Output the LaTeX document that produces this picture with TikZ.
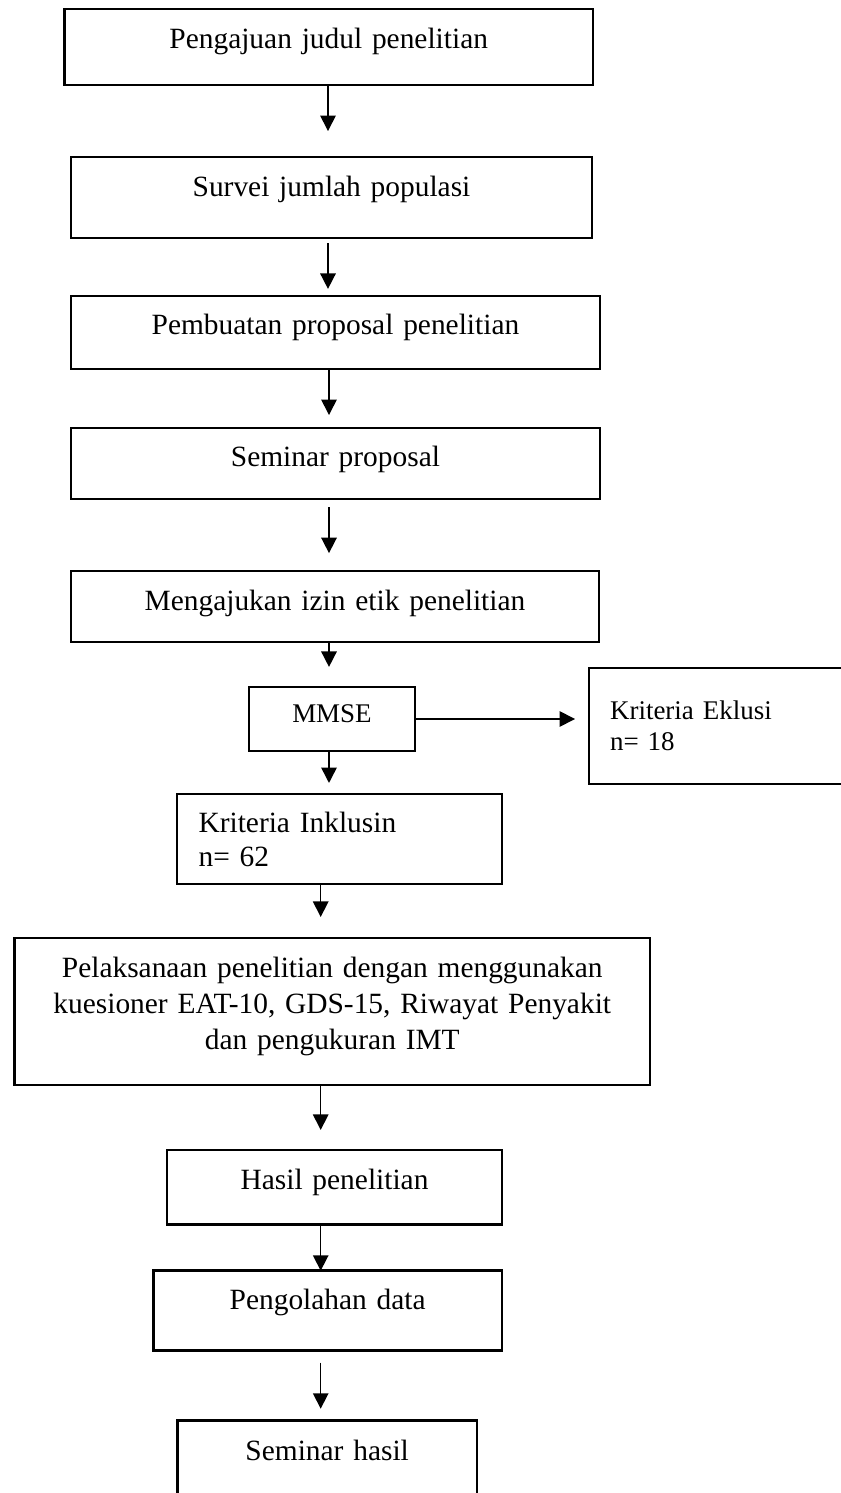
\documentclass[tikz,border=0pt]{standalone}
\usepackage{fontspec}
\setmainfont{Liberation Serif}
\usetikzlibrary{arrows.meta}

\begin{document}
\begin{tikzpicture}[x=0.408pt,y=-0.408pt,
  box/.style={draw,line width=1pt,anchor=north west,inner sep=0pt,outer sep=0pt,
    align=center,font=\fontsize{12}{14.7}\selectfont},
  arr/.style={line width=0.65pt,-{Triangle[width=6.3pt,length=6.3pt]}}]
\useasboundingbox (0,0) rectangle (841,1493);
\clip (0,0) rectangle (841,1493);
\coordinate (colA) at (328,0);
\coordinate (colB) at (329,0);
\coordinate (colC) at (320.7,0);
\path (64.5,9)    node[box,text width=215.6pt,text height=16pt,text depth=15pt]   (judul)    {Pengajuan judul penelitian};
\path (71,157)    node[box,text width=212.6pt,text height=16.2pt,text depth=16.9pt] (survei)   {Survei jumlah populasi};
\path (71,296)    node[box,text width=215.8pt,text height=15.9pt,text depth=13.9pt] (proposal) {Pembuatan proposal penelitian};
\path (71,428)    node[box,text width=215.8pt,text height=15.8pt,text depth=13.2pt] (seminar)  {Seminar proposal};
\path (71,571)    node[box,text width=215.4pt,text height=16.2pt,text depth=12.8pt] (izin)     {Mengajukan izin etik penelitian};
\path (249,687)   node[box,text width=67.7pt,text height=14.6pt,text depth=11.5pt,
                       font=\fontsize{11}{12.6}\selectfont] (mmse) {MMSE};
\path (589,668)   node[box,align=left,inner xsep=8.6pt,text width=93.4pt,text height=21.2pt,text depth=26.1pt,
                       font=\fontsize{11}{12.6}\selectfont] (eklusi) {Kriteria Eklusi\\n= 18};
\path (177,794)   node[box,align=left,inner xsep=8.8pt,text width=115.1pt,text height=15.8pt,text depth=20.9pt,
                       font=\fontsize{12}{13.9}\selectfont] (inklusi) {Kriteria Inklusin\\n= 62};
\path (14.5,938)  node[box,text width=259.3pt,text height=16pt,text depth=43.9pt] (pelaksanaan)
  {Pelaksanaan penelitian dengan menggunakan\\kuesioner EAT-10, GDS-15, Riwayat Penyakit\\dan pengukuran IMT};
\path (167,1150)  node[box,text width=136.7pt,text height=16.3pt,text depth=14pt]   (hasil)    {Hasil penelitian};
\path (153.3,1270.7) node[box,text width=142.3pt,text height=16pt,text depth=16.6pt] (olah)   {Pengolahan data};
\path (177.3,1420.7) node[box,text width=122.3pt,text height=16.3pt,text depth=20.1pt] (semhasil) {Seminar hasil};
\draw [arr,shorten >=10.6pt] (judul.south -| colA) -- (survei.north -| colA);
\draw [arr,shorten <=2pt,shorten >=2.9pt] (survei.south -| colA) -- (proposal.north -| colA);
\draw [arr,shorten >=5.3pt] (proposal.south -| colB) -- (seminar.north -| colB);
\draw [arr,shorten <=3.3pt,shorten >=7.3pt] (seminar.south -| colB) -- (izin.north -| colB);
\draw [arr,shorten >=8.2pt] (izin.south -| colB) -- (mmse.north -| colB);
\draw [arr,shorten >=4.5pt] (mmse.south -| colB) -- (inklusi.north -| colB);
\draw [arr,shorten >=5.7pt] (mmse.east) -- (eklusi.west |- mmse.east);
\draw [arr,shorten >=8.6pt] (inklusi.south -| colC) -- (pelaksanaan.north -| colC);
\draw [arr,shorten >=8.2pt] (pelaksanaan.south -| colC) -- (hasil.north -| colC);
\draw [arr] (hasil.south -| colC) -- (olah.north -| colC);
\draw [arr,shorten <=4.9pt,shorten >=4.9pt] (olah.south -| colC) -- (semhasil.north -| colC);
\end{tikzpicture}
\end{document}
